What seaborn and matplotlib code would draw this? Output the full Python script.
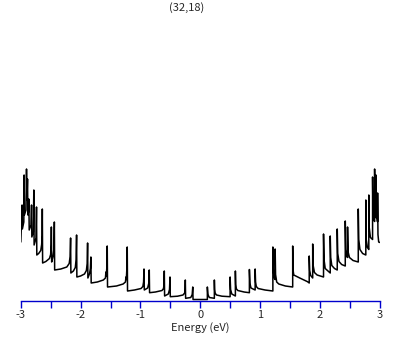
import matplotlib
matplotlib.use("Agg")
import matplotlib.pyplot as plt
import pandas as pd
import seaborn as sns
from matplotlib.ticker import MultipleLocator

# traced density of states of the (32,18) tube, arbitrary units
# valence side, walking from -3 eV toward the gap (one row per spike)
left_energy = [
    -2.998, -2.977, -2.972, -2.948, -2.943, -2.938, -2.912, -2.903, -2.896, -2.886,
    -2.880, -2.870, -2.864, -2.858, -2.828, -2.819, -2.814, -2.789, -2.781, -2.776,
    -2.744, -2.736, -2.731,
    -2.700, -2.665, -2.650, -2.642, -2.639, -2.634,
    -2.580, -2.520, -2.500, -2.492, -2.488, -2.483,
    -2.460, -2.446, -2.438, -2.433,
    -2.330, -2.230, -2.190, -2.175, -2.167, -2.162,
    -2.120, -2.088, -2.075, -2.067, -2.062,
    -2.000, -1.935, -1.903, -1.890, -1.883, -1.878,
    -1.850, -1.836, -1.828, -1.823,
    -1.720, -1.620, -1.585, -1.577, -1.570, -1.562, -1.555, -1.550,
    -1.400, -1.290, -1.251, -1.242, -1.236, -1.228, -1.221, -1.216,
    -1.100, -0.990, -0.960, -0.948, -0.941, -0.936,
    -0.880, -0.862, -0.853, -0.848,
    -0.750, -0.640, -0.615, -0.607, -0.602, -0.597,
    -0.535, -0.515, -0.507, -0.502,
    -0.380, -0.290, -0.262, -0.255, -0.251, -0.246,
    -0.160, -0.136, -0.127, -0.122,
]
left_dos = [
    0.575, 0.945, 0.705, 0.775, 1.245, 0.845, 0.895, 1.305, 0.995, 1.205,
    0.845, 0.875, 1.005, 0.695, 0.745, 0.945, 0.625, 0.675, 1.095, 0.545,
    0.615, 0.925, 0.445,
    0.460, 0.490, 0.550, 0.640, 0.905, 0.365,
    0.380, 0.410, 0.450, 0.550, 0.725, 0.375,
    0.430, 0.500, 0.775, 0.295,
    0.305, 0.325, 0.360, 0.430, 0.615, 0.265,
    0.285, 0.320, 0.400, 0.645, 0.225,
    0.235, 0.255, 0.290, 0.360, 0.565, 0.215,
    0.260, 0.310, 0.425, 0.165,
    0.175, 0.195, 0.215, 0.275, 0.235, 0.320, 0.535, 0.125,
    0.135, 0.155, 0.175, 0.225, 0.200, 0.300, 0.525, 0.085,
    0.095, 0.110, 0.130, 0.175, 0.305, 0.095,
    0.115, 0.160, 0.295, 0.068,
    0.075, 0.090, 0.110, 0.150, 0.285, 0.035,
    0.055, 0.100, 0.225, 0.028,
    0.033, 0.045, 0.065, 0.100, 0.195, 0.012,
    0.020, 0.050, 0.125, 0.000,
]

# conduction side, walking from the gap toward +3 eV (one row per spike)
right_energy = [
    0.117, 0.117, 0.126, 0.150,
    0.234, 0.234, 0.238, 0.245, 0.270, 0.360,
    0.497, 0.497, 0.505, 0.525,
    0.585, 0.585, 0.590, 0.598, 0.625, 0.730,
    0.819, 0.819, 0.828, 0.846,
    0.915, 0.915, 0.922, 0.934, 0.965, 1.080,
    1.211, 1.211, 1.218, 1.232,
    1.249, 1.249, 1.256, 1.275, 1.310, 1.420,
    1.542, 1.542, 1.547, 1.560, 1.660, 1.790,
    1.818, 1.818, 1.826, 1.842,
    1.876, 1.876, 1.884, 1.905, 1.950,
    2.057, 2.057, 2.065, 2.085,
    2.169, 2.169, 2.177, 2.195, 2.240,
    2.286, 2.286, 2.294, 2.315, 2.360,
    2.420, 2.420, 2.428, 2.445,
    2.458, 2.458, 2.466, 2.490, 2.550,
    2.637, 2.637, 2.645, 2.665, 2.710,
    2.763, 2.763, 2.770, 2.790,
    2.813, 2.813, 2.820, 2.840,
    2.876, 2.876, 2.882, 2.897,
    2.910, 2.910, 2.916, 2.928,
    2.933, 2.933, 2.939, 2.955,
    2.960, 2.960, 2.966, 2.978, 3.000,
]
right_dos = [
    0.000, 0.125, 0.050, 0.020,
    0.012, 0.195, 0.100, 0.065, 0.045, 0.033,
    0.028, 0.225, 0.100, 0.055,
    0.035, 0.285, 0.150, 0.110, 0.090, 0.075,
    0.068, 0.300, 0.160, 0.115,
    0.095, 0.305, 0.175, 0.130, 0.110, 0.095,
    0.085, 0.525, 0.300, 0.220,
    0.200, 0.505, 0.250, 0.175, 0.155, 0.135,
    0.125, 0.535, 0.300, 0.245, 0.215, 0.178,
    0.165, 0.435, 0.290, 0.240,
    0.215, 0.555, 0.340, 0.270, 0.245,
    0.225, 0.655, 0.400, 0.310,
    0.265, 0.635, 0.420, 0.340, 0.310,
    0.295, 0.705, 0.460, 0.380, 0.350,
    0.335, 0.785, 0.500, 0.430,
    0.420, 0.725, 0.480, 0.420, 0.390,
    0.375, 0.905, 0.600, 0.500, 0.460,
    0.445, 0.995, 0.600, 0.520,
    0.500, 1.045, 0.720, 0.620,
    0.600, 1.225, 0.900, 0.800,
    0.780, 1.305, 0.950, 0.820,
    0.820, 1.245, 0.880, 0.780,
    0.780, 1.065, 0.650, 0.575, 0.570,
]

title = "(32,18)"
xlabel = "Energy (eV)"

df = pd.DataFrame({
    "energy": left_energy + right_energy,
    "dos": left_dos + right_dos,
})

sns.set_style("white")
plt.rcParams["font.family"] = ["Noto Sans CJK JP", "DejaVu Sans"]
plt.rcParams["axes.unicode_minus"] = False

fig = plt.figure(figsize=(4.09, 3.45), dpi=100)
ax = fig.add_axes([20.7 / 409, 44.5 / 345, 359.3 / 409, 275.5 / 345])

sns.lineplot(data=df, x="energy", y="dos", sort=False, estimator=None,
             color="black", linewidth=1.1, ax=ax)

ax.set_xlim(-3, 3)
ax.set_ylim(-0.01, 2.745)
for side in ["top", "left", "right"]:
    ax.spines[side].set_visible(False)
ax.spines["bottom"].set_color("#0000cc")
ax.spines["bottom"].set_linewidth(1.0)
ax.xaxis.set_major_locator(MultipleLocator(1))
ax.xaxis.set_minor_locator(MultipleLocator(0.5))
ax.tick_params(axis="x", which="both", direction="out", length=5, width=1,
               color="#0000cc", labelsize=8, pad=2, bottom=True)
ax.set_xticklabels([f"{int(v)}" for v in ax.get_xticks()])
ax.set_yticks([])
ax.set_xlabel(xlabel, fontsize=8, labelpad=1)
ax.set_ylabel("")

fig.text(187 / 409, 1 - 8 / 345, title, ha="center", va="center", fontsize=8)

fig.savefig("out.png", dpi=100)
